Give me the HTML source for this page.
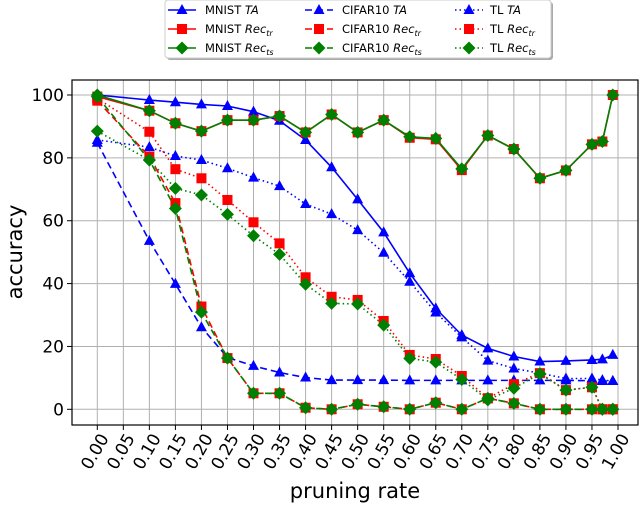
<!DOCTYPE html>
<html><head><meta charset="utf-8"><style>
html,body{margin:0;padding:0;background:#fff;}
svg{display:block;font-family:"DejaVu Sans","Liberation Sans",sans-serif;}
</style></head><body>
<svg id="chart" width="640" height="513" viewBox="0 0 640 513"></svg>
<script>
const xs=[0,0.1,0.15,0.2,0.25,0.3,0.35,0.4,0.45,0.5,0.55,0.6,0.65,0.7,0.75,0.8,0.85,0.9,0.95,0.97,0.99];
const xTicks=["0.00","0.05","0.10","0.15","0.20","0.25","0.30","0.35","0.40","0.45","0.50","0.55","0.60","0.65","0.70","0.75","0.80","0.85","0.90","0.95","1.00"];
const yTicks=[0,20,40,60,80,100];
const mnistTA=[100,98.4,97.7,97,96.5,94.7,91.8,85.7,77,66.8,56.3,43.3,32.1,23.6,19.4,16.8,15.2,15.4,15.7,15.9,17.3];
const mnistTr=[99.5,95,91,88.5,92,92,93.3,88.1,93.8,88.1,92,86.4,85.9,76.1,87.1,82.8,73.5,76,84.3,85.2,100];
const mnistTs=[100,95,91,88.5,92,92,93.3,88.1,93.8,88.1,92,86.7,86.2,76.5,87.1,82.8,73.5,76,84.3,85.2,100];
const cifarTA=[84.8,53.6,39.9,26.1,16.5,13.8,11.7,10.1,9.3,9.3,9.3,9.2,9.2,9.2,9.2,9.2,9.2,9.2,9.1,9.0,9.0];
const cifarTr=[98.2,80.4,65.6,32.7,16.3,5.1,5.1,0.5,0,1.6,0.8,0,2.1,0,3.5,1.9,0,0,0,0,0];
const cifarTs=[99.5,79.3,63.9,30.9,16.3,5.1,5.1,0.5,0,1.6,0.8,0,2.1,0,3.5,1.9,0,0,0,0,0];
const tlTA=[85.7,83.4,80.6,79.3,76.7,73.7,71,65.3,62.1,57,49.8,40.6,30.8,22.9,15.5,13,11.5,9.8,9.8,9.3,9.0];
const tlTr=[98.9,88.3,76.4,73.5,66.6,59.5,52.8,42,35.8,34.8,28.1,17.3,16,10.6,3.5,8,11.5,6.1,7,0,0];
const tlTs=[88.5,79.3,70.3,68.2,62,55.2,49.3,39.8,33.7,33.5,26.8,16.2,15,9.5,3,6.7,11.3,6.1,7,0,0];

const NS="http://www.w3.org/2000/svg";
const svg=document.getElementById('chart');
const L=72,R=638,T=80,B=425;
const X=v=>97.3+v*520.7;
const Y=v=>409.3-v*3.143;
function mk(tag,at,parent){const e=document.createElementNS(NS,tag);for(const k in at)e.setAttribute(k,at[k]);(parent||svg).appendChild(e);return e;}

// grid
xTicks.forEach((t,i)=>{const x=X(i*0.05);
 const g=mk('line',{x1:x,x2:x,y1:T,y2:B,stroke:'#b0b0b0','stroke-width':1});
 
 
 mk('line',{x1:x,x2:x,y1:B,y2:B+5,stroke:'#000'});
 const ax=x+12, ay=B+13;
 const tx=mk('text',{x:ax,y:ay,'font-size':17,'text-anchor':'end',transform:`rotate(-60 ${ax} ${ay})`});
 tx.textContent=t;
 
 
});
yTicks.forEach(v=>{const y=Y(v);
 const g=mk('line',{x1:L,x2:R,y1:y,y2:y,stroke:'#b0b0b0','stroke-width':1});
 
 
 mk('line',{x1:L-5,x2:L,y1:y,y2:y,stroke:'#000'});
 const tx=mk('text',{x:L-8,y:y+6,'font-size':17,'text-anchor':'end'});
 tx.textContent=v;
 
 
});
const frame=mk('rect',{x:L,y:T,width:R-L,height:B-T,fill:'none',stroke:'#000','stroke-width':1.2});



function marker(type,x,y,color,p){
 if(type==='tri') return mk('polygon',{points:`${x},${y-6} ${x-5.5},${y+4} ${x+5.5},${y+4}`,fill:color},p);
 if(type==='sq') return mk('rect',{x:x-5,y:y-5,width:10,height:10,fill:color},p);
 return mk('polygon',{points:`${x},${y-6.5} ${x+6.5},${y} ${x},${y+6.5} ${x-6.5},${y}`,fill:color},p);
}
const dash={solid:'',dashed:'7,4',dotted:'1.5,3'};
const series=[
 {name:'mnist-ta',d:mnistTA,c:'#0000ff',m:'tri',s:'solid'},
 {name:'cifar10-ta',d:cifarTA,c:'#0000ff',m:'tri',s:'dashed'},
 {name:'tl-ta',d:tlTA,c:'#0000ff',m:'tri',s:'dotted'},
 {name:'mnist-rec-tr',d:mnistTr,c:'#ff0000',m:'sq',s:'solid'},
 {name:'cifar10-rec-tr',d:cifarTr,c:'#ff0000',m:'sq',s:'dashed'},
 {name:'tl-rec-tr',d:tlTr,c:'#ff0000',m:'sq',s:'dotted'},
 {name:'mnist-rec-ts',d:mnistTs,c:'#008000',m:'dia',s:'solid'},
 {name:'cifar10-rec-ts',d:cifarTs,c:'#008000',m:'dia',s:'dashed'},
 {name:'tl-rec-ts',d:tlTs,c:'#008000',m:'dia',s:'dotted'},
];
series.forEach(sr=>{
 const g=mk('g',{});
 
 
 const pts=sr.d.map((v,i)=>X(xs[i])+','+Y(v)).join(' ');
 const pl=mk('polyline',{points:pts,fill:'none',stroke:sr.c,'stroke-width':1.6,'stroke-dasharray':dash[sr.s]},g);
 
 
 sr.d.forEach((v,i)=>{const m=marker(sr.m,X(xs[i]),Y(v),sr.c,g);
  
  });
});

// axis titles
const xt=mk('text',{x:355,y:498,'font-size':21,'text-anchor':'middle'});xt.textContent='pruning rate';

const yt=mk('text',{x:22,y:252,'font-size':21,'text-anchor':'middle',transform:'rotate(-90 22 252)'});yt.textContent='accuracy';


// legend
const lg=mk('g',{});


mk('rect',{x:167,y:2,width:386,height:58,rx:3,fill:'#aaa'},lg);
mk('rect',{x:165,y:0,width:386,height:58,rx:3,fill:'#fff',stroke:'#ccc'},lg);
const cols=[{hx:168,tx:205},{hx:305,tx:342},{hx:455,tx:490}];
const labels=[
 [['MNIST ','TA',''],['MNIST ','Rec','tr'],['MNIST ','Rec','ts']],
 [['CIFAR10 ','TA',''],['CIFAR10 ','Rec','tr'],['CIFAR10 ','Rec','ts']],
 [['TL ','TA',''],['TL ','Rec','tr'],['TL ','Rec','ts']]];
const order=[[0,3,6],[1,4,7],[2,5,8]];
cols.forEach((c,ci)=>{[10,29,48].forEach((y,ri)=>{
 const sr=series[order[ci][ri]];
 const e=mk('g',{},lg);
 
 
 mk('line',{x1:c.hx,x2:c.hx+28,y1:y,y2:y,stroke:sr.c,'stroke-width':1.6,'stroke-dasharray':dash[sr.s]},e);
 marker(sr.m,c.hx+14,y,sr.c,e);
 const t=mk('text',{x:c.tx,y:y+4,'font-size':11.5},e);
 const lb=labels[ci][ri];
 t.appendChild(document.createTextNode(lb[0]));
 const it=mk('tspan',{'font-style':'italic'},t);it.textContent=lb[1];
 if(lb[2]){const sb=mk('tspan',{'font-style':'italic','font-size':8,dy:3},t);sb.textContent=lb[2];}
});});
</script>
</body></html>
